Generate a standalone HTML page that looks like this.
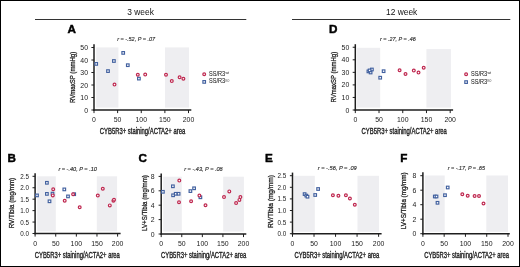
<!DOCTYPE html><html><head><meta charset="utf-8"><title>Figure</title><style>
html,body{margin:0;padding:0;background:#fff;}
body{width:520px;height:267px;overflow:hidden;}
svg{display:block;will-change:transform;font-family:"Liberation Sans",sans-serif;}
</style></head><body>
<svg width="520" height="267" viewBox="0 0 520 267">
<rect x="0" y="0" width="520" height="267" fill="#fff"/>
<text x="140.6" y="14.5" font-size="8.4" text-anchor="middle" fill="#111">3 week</text>
<text x="401.7" y="14.5" font-size="8.4" text-anchor="middle" fill="#111">12 week</text>
<line x1="35" y1="19.5" x2="246.3" y2="19.5" stroke="#333" stroke-width="1"/>
<line x1="292" y1="19.5" x2="510.3" y2="19.5" stroke="#333" stroke-width="1"/>
<text x="67.4" y="33.2" font-size="11.7" font-weight="bold" fill="#000" stroke="#000" stroke-width="0.45">A</text>
<rect x="96.2" y="47.4" width="22.2" height="60.2" fill="#eeeef1"/>
<rect x="165" y="47.4" width="24" height="60.2" fill="#eeeef1"/>
<line x1="94" y1="44.2" x2="94" y2="110.75" stroke="#1e1e1e" stroke-width="1.5"/>
<line x1="93.25" y1="110" x2="191.3" y2="110" stroke="#1e1e1e" stroke-width="1.5"/>
<line x1="91.4" y1="110" x2="94" y2="110" stroke="#1e1e1e" stroke-width="1"/>
<text x="88" y="112.5" font-size="6.3" text-anchor="end" textLength="3.85" lengthAdjust="spacingAndGlyphs" fill="#222">0</text>
<line x1="91.4" y1="97.5" x2="94" y2="97.5" stroke="#1e1e1e" stroke-width="1"/>
<text x="88" y="100" font-size="6.3" text-anchor="end" textLength="7.71" lengthAdjust="spacingAndGlyphs" fill="#222">10</text>
<line x1="91.4" y1="85" x2="94" y2="85" stroke="#1e1e1e" stroke-width="1"/>
<text x="88" y="87.5" font-size="6.3" text-anchor="end" textLength="7.71" lengthAdjust="spacingAndGlyphs" fill="#222">20</text>
<line x1="91.4" y1="72.5" x2="94" y2="72.5" stroke="#1e1e1e" stroke-width="1"/>
<text x="88" y="75" font-size="6.3" text-anchor="end" textLength="7.71" lengthAdjust="spacingAndGlyphs" fill="#222">30</text>
<line x1="91.4" y1="60" x2="94" y2="60" stroke="#1e1e1e" stroke-width="1"/>
<text x="88" y="62.5" font-size="6.3" text-anchor="end" textLength="7.71" lengthAdjust="spacingAndGlyphs" fill="#222">40</text>
<line x1="91.4" y1="47.5" x2="94" y2="47.5" stroke="#1e1e1e" stroke-width="1"/>
<text x="88" y="50" font-size="6.3" text-anchor="end" textLength="7.71" lengthAdjust="spacingAndGlyphs" fill="#222">50</text>
<line x1="94" y1="110" x2="94" y2="113.1" stroke="#1e1e1e" stroke-width="1"/>
<text x="94" y="122" font-size="6.3" text-anchor="middle" textLength="3.85" lengthAdjust="spacingAndGlyphs" fill="#222">0</text>
<line x1="117.62" y1="110" x2="117.62" y2="113.1" stroke="#1e1e1e" stroke-width="1"/>
<text x="117.62" y="122" font-size="6.3" text-anchor="middle" textLength="7.71" lengthAdjust="spacingAndGlyphs" fill="#222">50</text>
<line x1="141.25" y1="110" x2="141.25" y2="113.1" stroke="#1e1e1e" stroke-width="1"/>
<text x="141.25" y="122" font-size="6.3" text-anchor="middle" textLength="11.56" lengthAdjust="spacingAndGlyphs" fill="#222">100</text>
<line x1="164.88" y1="110" x2="164.88" y2="113.1" stroke="#1e1e1e" stroke-width="1"/>
<text x="164.88" y="122" font-size="6.3" text-anchor="middle" textLength="11.56" lengthAdjust="spacingAndGlyphs" fill="#222">150</text>
<line x1="188.5" y1="110" x2="188.5" y2="113.1" stroke="#1e1e1e" stroke-width="1"/>
<text x="188.5" y="122" font-size="6.3" text-anchor="middle" textLength="11.56" lengthAdjust="spacingAndGlyphs" fill="#222">200</text>
<text transform="translate(74.8 77.4) rotate(-90)" x="0" y="0" font-size="7.2" stroke="#222" stroke-width="0.28" text-anchor="middle" textLength="51.2" lengthAdjust="spacingAndGlyphs" fill="#222">RVmaxSP (mmHg)</text>
<text x="99.8" y="133.6" font-size="8.2" stroke="#222" stroke-width="0.36" textLength="85.4" lengthAdjust="spacingAndGlyphs" fill="#222">CYB5R3+ staining/ACTA2+ area</text>
<text x="117.2" y="40.5" font-size="5.4" font-style="italic" stroke="#333" stroke-width="0.15" textLength="37.8" lengthAdjust="spacingAndGlyphs" fill="#333">r = -.52, P = .07</text>
<rect x="94.9" y="62.6" width="2.6" height="2.6" fill="#fff" stroke="#41609f" stroke-width="1.15"/>
<rect x="106.7" y="69.8" width="2.6" height="2.6" fill="#fff" stroke="#41609f" stroke-width="1.15"/>
<rect x="112.6" y="59.7" width="2.6" height="2.6" fill="#fff" stroke="#41609f" stroke-width="1.15"/>
<rect x="121.9" y="51.6" width="2.6" height="2.6" fill="#fff" stroke="#41609f" stroke-width="1.15"/>
<rect x="126.5" y="63.9" width="2.6" height="2.6" fill="#fff" stroke="#41609f" stroke-width="1.15"/>
<rect x="137.6" y="77.3" width="2.6" height="2.6" fill="#fff" stroke="#41609f" stroke-width="1.15"/>
<circle cx="114.5" cy="84.6" r="1.4" fill="#fff" stroke="#bf2850" stroke-width="1.2"/>
<circle cx="137.8" cy="74.8" r="1.4" fill="#fff" stroke="#bf2850" stroke-width="1.2"/>
<circle cx="145.2" cy="74.6" r="1.4" fill="#fff" stroke="#bf2850" stroke-width="1.2"/>
<circle cx="166" cy="74.8" r="1.4" fill="#fff" stroke="#bf2850" stroke-width="1.2"/>
<circle cx="171.8" cy="81.1" r="1.4" fill="#fff" stroke="#bf2850" stroke-width="1.2"/>
<circle cx="179.6" cy="77.2" r="1.4" fill="#fff" stroke="#bf2850" stroke-width="1.2"/>
<circle cx="183.4" cy="78.8" r="1.4" fill="#fff" stroke="#bf2850" stroke-width="1.2"/>
<circle cx="204.2" cy="74.3" r="1.4" fill="#fff" stroke="#bf2850" stroke-width="1.2"/>
<rect x="202.9" y="80.6" width="2.6" height="2.6" fill="#fff" stroke="#41609f" stroke-width="1.15"/>
<text x="209" y="75.8" font-size="6.3" textLength="16.1" lengthAdjust="spacingAndGlyphs" fill="#222" stroke="#222" stroke-width="0.05">SS/R3</text>
<text x="225.4" y="74" font-size="3.6" textLength="3.6" lengthAdjust="spacingAndGlyphs" fill="#222">wt</text>
<text x="209" y="83.4" font-size="6.3" textLength="16.1" lengthAdjust="spacingAndGlyphs" fill="#222" stroke="#222" stroke-width="0.05">SS/R3</text>
<text x="225.4" y="81.6" font-size="3.6" textLength="3.9" lengthAdjust="spacingAndGlyphs" fill="#222">KO</text>
<text x="329" y="33" font-size="11.7" font-weight="bold" fill="#000" stroke="#000" stroke-width="0.45">D</text>
<rect x="357.1" y="47.8" width="23.1" height="59.8" fill="#eeeef1"/>
<rect x="426.4" y="49.1" width="24.5" height="58.5" fill="#eeeef1"/>
<line x1="355.3" y1="44.2" x2="355.3" y2="110.75" stroke="#1e1e1e" stroke-width="1.5"/>
<line x1="354.55" y1="110" x2="453.1" y2="110" stroke="#1e1e1e" stroke-width="1.5"/>
<line x1="352.7" y1="110" x2="355.3" y2="110" stroke="#1e1e1e" stroke-width="1"/>
<text x="349.3" y="112.5" font-size="6.3" text-anchor="end" textLength="3.85" lengthAdjust="spacingAndGlyphs" fill="#222">0</text>
<line x1="352.7" y1="97.45" x2="355.3" y2="97.45" stroke="#1e1e1e" stroke-width="1"/>
<text x="349.3" y="99.95" font-size="6.3" text-anchor="end" textLength="7.71" lengthAdjust="spacingAndGlyphs" fill="#222">10</text>
<line x1="352.7" y1="84.9" x2="355.3" y2="84.9" stroke="#1e1e1e" stroke-width="1"/>
<text x="349.3" y="87.4" font-size="6.3" text-anchor="end" textLength="7.71" lengthAdjust="spacingAndGlyphs" fill="#222">20</text>
<line x1="352.7" y1="72.35" x2="355.3" y2="72.35" stroke="#1e1e1e" stroke-width="1"/>
<text x="349.3" y="74.85" font-size="6.3" text-anchor="end" textLength="7.71" lengthAdjust="spacingAndGlyphs" fill="#222">30</text>
<line x1="352.7" y1="59.8" x2="355.3" y2="59.8" stroke="#1e1e1e" stroke-width="1"/>
<text x="349.3" y="62.3" font-size="6.3" text-anchor="end" textLength="7.71" lengthAdjust="spacingAndGlyphs" fill="#222">40</text>
<line x1="352.7" y1="47.25" x2="355.3" y2="47.25" stroke="#1e1e1e" stroke-width="1"/>
<text x="349.3" y="49.75" font-size="6.3" text-anchor="end" textLength="7.71" lengthAdjust="spacingAndGlyphs" fill="#222">50</text>
<line x1="355.3" y1="110" x2="355.3" y2="113.1" stroke="#1e1e1e" stroke-width="1"/>
<text x="355.3" y="122" font-size="6.3" text-anchor="middle" textLength="3.85" lengthAdjust="spacingAndGlyphs" fill="#222">0</text>
<line x1="379.03" y1="110" x2="379.03" y2="113.1" stroke="#1e1e1e" stroke-width="1"/>
<text x="379.03" y="122" font-size="6.3" text-anchor="middle" textLength="7.71" lengthAdjust="spacingAndGlyphs" fill="#222">50</text>
<line x1="402.75" y1="110" x2="402.75" y2="113.1" stroke="#1e1e1e" stroke-width="1"/>
<text x="402.75" y="122" font-size="6.3" text-anchor="middle" textLength="11.56" lengthAdjust="spacingAndGlyphs" fill="#222">100</text>
<line x1="426.48" y1="110" x2="426.48" y2="113.1" stroke="#1e1e1e" stroke-width="1"/>
<text x="426.48" y="122" font-size="6.3" text-anchor="middle" textLength="11.56" lengthAdjust="spacingAndGlyphs" fill="#222">150</text>
<line x1="450.2" y1="110" x2="450.2" y2="113.1" stroke="#1e1e1e" stroke-width="1"/>
<text x="450.2" y="122" font-size="6.3" text-anchor="middle" textLength="11.56" lengthAdjust="spacingAndGlyphs" fill="#222">200</text>
<text transform="translate(336.2 77.15) rotate(-90)" x="0" y="0" font-size="7.2" stroke="#222" stroke-width="0.28" text-anchor="middle" textLength="50.7" lengthAdjust="spacingAndGlyphs" fill="#222">RVmaxSP (mmHg)</text>
<text x="361.6" y="134.1" font-size="8.2" stroke="#222" stroke-width="0.36" textLength="85.3" lengthAdjust="spacingAndGlyphs" fill="#222">CYB5R3+ staining/ACTA2+ area</text>
<text x="380" y="40.6" font-size="5.4" font-style="italic" stroke="#333" stroke-width="0.15" textLength="35.8" lengthAdjust="spacingAndGlyphs" fill="#333">r = .27, P = .46</text>
<rect x="367.1" y="70.1" width="2.6" height="2.6" fill="#fff" stroke="#41609f" stroke-width="1.15"/>
<rect x="369.3" y="71.2" width="2.6" height="2.6" fill="#fff" stroke="#41609f" stroke-width="1.15"/>
<rect x="370.6" y="68.2" width="2.6" height="2.6" fill="#fff" stroke="#41609f" stroke-width="1.15"/>
<rect x="368.3" y="69.1" width="2.6" height="2.6" fill="#fff" stroke="#41609f" stroke-width="1.15"/>
<rect x="382.3" y="69.9" width="2.6" height="2.6" fill="#fff" stroke="#41609f" stroke-width="1.15"/>
<rect x="378.9" y="76.4" width="2.6" height="2.6" fill="#fff" stroke="#41609f" stroke-width="1.15"/>
<circle cx="399.6" cy="70.2" r="1.4" fill="#fff" stroke="#bf2850" stroke-width="1.2"/>
<circle cx="405.5" cy="74" r="1.4" fill="#fff" stroke="#bf2850" stroke-width="1.2"/>
<circle cx="413.8" cy="70.6" r="1.4" fill="#fff" stroke="#bf2850" stroke-width="1.2"/>
<circle cx="418.5" cy="72.6" r="1.4" fill="#fff" stroke="#bf2850" stroke-width="1.2"/>
<circle cx="423.7" cy="67.8" r="1.4" fill="#fff" stroke="#bf2850" stroke-width="1.2"/>
<circle cx="466.1" cy="74.2" r="1.4" fill="#fff" stroke="#bf2850" stroke-width="1.2"/>
<rect x="464.8" y="80.8" width="2.6" height="2.6" fill="#fff" stroke="#41609f" stroke-width="1.15"/>
<text x="471" y="75.7" font-size="6.3" textLength="16.1" lengthAdjust="spacingAndGlyphs" fill="#222" stroke="#222" stroke-width="0.05">SS/R3</text>
<text x="487.4" y="73.9" font-size="3.6" textLength="3.6" lengthAdjust="spacingAndGlyphs" fill="#222">wt</text>
<text x="471" y="83.6" font-size="6.3" textLength="16.1" lengthAdjust="spacingAndGlyphs" fill="#222" stroke="#222" stroke-width="0.05">SS/R3</text>
<text x="487.4" y="81.8" font-size="3.6" textLength="3.9" lengthAdjust="spacingAndGlyphs" fill="#222">KO</text>
<text x="7.6" y="161.9" font-size="11.7" font-weight="bold" fill="#000" stroke="#000" stroke-width="0.45">B</text>
<rect x="37.2" y="176.3" width="18.6" height="55.1" fill="#eeeef1"/>
<rect x="96.8" y="176.3" width="20.3" height="55.1" fill="#eeeef1"/>
<line x1="35.1" y1="173.2" x2="35.1" y2="234.25" stroke="#1e1e1e" stroke-width="1.5"/>
<line x1="34.35" y1="233.5" x2="120.6" y2="233.5" stroke="#1e1e1e" stroke-width="1.5"/>
<line x1="32.5" y1="233.5" x2="35.1" y2="233.5" stroke="#1e1e1e" stroke-width="1"/>
<text x="29" y="236" font-size="6.3" text-anchor="end" textLength="8.76" lengthAdjust="spacingAndGlyphs" fill="#222">0.0</text>
<line x1="32.5" y1="222.06" x2="35.1" y2="222.06" stroke="#1e1e1e" stroke-width="1"/>
<text x="29" y="224.56" font-size="6.3" text-anchor="end" textLength="8.76" lengthAdjust="spacingAndGlyphs" fill="#222">0.5</text>
<line x1="32.5" y1="210.62" x2="35.1" y2="210.62" stroke="#1e1e1e" stroke-width="1"/>
<text x="29" y="213.12" font-size="6.3" text-anchor="end" textLength="8.76" lengthAdjust="spacingAndGlyphs" fill="#222">1.0</text>
<line x1="32.5" y1="199.18" x2="35.1" y2="199.18" stroke="#1e1e1e" stroke-width="1"/>
<text x="29" y="201.68" font-size="6.3" text-anchor="end" textLength="8.76" lengthAdjust="spacingAndGlyphs" fill="#222">1.5</text>
<line x1="32.5" y1="187.74" x2="35.1" y2="187.74" stroke="#1e1e1e" stroke-width="1"/>
<text x="29" y="190.24" font-size="6.3" text-anchor="end" textLength="8.76" lengthAdjust="spacingAndGlyphs" fill="#222">2.0</text>
<line x1="32.5" y1="176.3" x2="35.1" y2="176.3" stroke="#1e1e1e" stroke-width="1"/>
<text x="29" y="178.8" font-size="6.3" text-anchor="end" textLength="8.76" lengthAdjust="spacingAndGlyphs" fill="#222">2.5</text>
<line x1="35.1" y1="233.5" x2="35.1" y2="236.6" stroke="#1e1e1e" stroke-width="1"/>
<text x="35.1" y="246" font-size="6.3" text-anchor="middle" textLength="3.85" lengthAdjust="spacingAndGlyphs" fill="#222">0</text>
<line x1="55.73" y1="233.5" x2="55.73" y2="236.6" stroke="#1e1e1e" stroke-width="1"/>
<text x="55.73" y="246" font-size="6.3" text-anchor="middle" textLength="7.71" lengthAdjust="spacingAndGlyphs" fill="#222">50</text>
<line x1="76.35" y1="233.5" x2="76.35" y2="236.6" stroke="#1e1e1e" stroke-width="1"/>
<text x="76.35" y="246" font-size="6.3" text-anchor="middle" textLength="11.56" lengthAdjust="spacingAndGlyphs" fill="#222">100</text>
<line x1="96.97" y1="233.5" x2="96.97" y2="236.6" stroke="#1e1e1e" stroke-width="1"/>
<text x="96.97" y="246" font-size="6.3" text-anchor="middle" textLength="11.56" lengthAdjust="spacingAndGlyphs" fill="#222">150</text>
<line x1="117.6" y1="233.5" x2="117.6" y2="236.6" stroke="#1e1e1e" stroke-width="1"/>
<text x="117.6" y="246" font-size="6.3" text-anchor="middle" textLength="11.56" lengthAdjust="spacingAndGlyphs" fill="#222">200</text>
<text transform="translate(13.9 203.05) rotate(-90)" x="0" y="0" font-size="7.2" stroke="#222" stroke-width="0.28" text-anchor="middle" textLength="50.5" lengthAdjust="spacingAndGlyphs" fill="#222">RV/Tibia (mg/mm)</text>
<text x="34.8" y="257.9" font-size="8.2" stroke="#222" stroke-width="0.36" textLength="85.1" lengthAdjust="spacingAndGlyphs" fill="#222">CYB5R3+ staining/ACTA2+ area</text>
<text x="58.4" y="170.6" font-size="5.4" font-style="italic" stroke="#333" stroke-width="0.15" textLength="38.5" lengthAdjust="spacingAndGlyphs" fill="#333">r = -.40, P = .10</text>
<rect x="35.7" y="194.1" width="2.6" height="2.6" fill="#fff" stroke="#41609f" stroke-width="1.15"/>
<rect x="45.6" y="181.5" width="2.6" height="2.6" fill="#fff" stroke="#41609f" stroke-width="1.15"/>
<rect x="45.6" y="192.6" width="2.6" height="2.6" fill="#fff" stroke="#41609f" stroke-width="1.15"/>
<rect x="48.2" y="200" width="2.6" height="2.6" fill="#fff" stroke="#41609f" stroke-width="1.15"/>
<rect x="51.2" y="192.3" width="2.6" height="2.6" fill="#fff" stroke="#41609f" stroke-width="1.15"/>
<rect x="63" y="188.1" width="2.6" height="2.6" fill="#fff" stroke="#41609f" stroke-width="1.15"/>
<rect x="66.7" y="195.1" width="2.6" height="2.6" fill="#fff" stroke="#41609f" stroke-width="1.15"/>
<rect x="72.9" y="192.9" width="2.6" height="2.6" fill="#fff" stroke="#41609f" stroke-width="1.15"/>
<circle cx="53.2" cy="189.2" r="1.4" fill="#fff" stroke="#bf2850" stroke-width="1.2"/>
<circle cx="52.8" cy="195.4" r="1.4" fill="#fff" stroke="#bf2850" stroke-width="1.2"/>
<circle cx="64.7" cy="200.7" r="1.4" fill="#fff" stroke="#bf2850" stroke-width="1.2"/>
<circle cx="73.1" cy="194.2" r="1.4" fill="#fff" stroke="#bf2850" stroke-width="1.2"/>
<circle cx="79.7" cy="207.2" r="1.4" fill="#fff" stroke="#bf2850" stroke-width="1.2"/>
<circle cx="97.8" cy="195.6" r="1.4" fill="#fff" stroke="#bf2850" stroke-width="1.2"/>
<circle cx="102.8" cy="188.8" r="1.4" fill="#fff" stroke="#bf2850" stroke-width="1.2"/>
<circle cx="109.8" cy="205.4" r="1.4" fill="#fff" stroke="#bf2850" stroke-width="1.2"/>
<circle cx="113.4" cy="200.7" r="1.4" fill="#fff" stroke="#bf2850" stroke-width="1.2"/>
<circle cx="114" cy="199.8" r="1.4" fill="#fff" stroke="#bf2850" stroke-width="1.2"/>
<text x="138.6" y="161.9" font-size="11.7" font-weight="bold" fill="#000" stroke="#000" stroke-width="0.45">C</text>
<rect x="163.2" y="176.7" width="18.6" height="54.9" fill="#eeeef1"/>
<rect x="223.2" y="176.7" width="20.7" height="54.9" fill="#eeeef1"/>
<line x1="161.2" y1="173.6" x2="161.2" y2="234.75" stroke="#1e1e1e" stroke-width="1.5"/>
<line x1="160.45" y1="234" x2="246.3" y2="234" stroke="#1e1e1e" stroke-width="1.5"/>
<line x1="158.6" y1="234" x2="161.2" y2="234" stroke="#1e1e1e" stroke-width="1"/>
<text x="154.7" y="236.5" font-size="6.3" text-anchor="end" textLength="3.85" lengthAdjust="spacingAndGlyphs" fill="#222">0</text>
<line x1="158.6" y1="219.6" x2="161.2" y2="219.6" stroke="#1e1e1e" stroke-width="1"/>
<text x="154.7" y="222.1" font-size="6.3" text-anchor="end" textLength="3.85" lengthAdjust="spacingAndGlyphs" fill="#222">2</text>
<line x1="158.6" y1="205.2" x2="161.2" y2="205.2" stroke="#1e1e1e" stroke-width="1"/>
<text x="154.7" y="207.7" font-size="6.3" text-anchor="end" textLength="3.85" lengthAdjust="spacingAndGlyphs" fill="#222">4</text>
<line x1="158.6" y1="190.8" x2="161.2" y2="190.8" stroke="#1e1e1e" stroke-width="1"/>
<text x="154.7" y="193.3" font-size="6.3" text-anchor="end" textLength="3.85" lengthAdjust="spacingAndGlyphs" fill="#222">6</text>
<line x1="158.6" y1="176.4" x2="161.2" y2="176.4" stroke="#1e1e1e" stroke-width="1"/>
<text x="154.7" y="178.9" font-size="6.3" text-anchor="end" textLength="3.85" lengthAdjust="spacingAndGlyphs" fill="#222">8</text>
<line x1="161.2" y1="234" x2="161.2" y2="237.1" stroke="#1e1e1e" stroke-width="1"/>
<text x="161.2" y="246" font-size="6.3" text-anchor="middle" textLength="3.85" lengthAdjust="spacingAndGlyphs" fill="#222">0</text>
<line x1="181.77" y1="234" x2="181.77" y2="237.1" stroke="#1e1e1e" stroke-width="1"/>
<text x="181.77" y="246" font-size="6.3" text-anchor="middle" textLength="7.71" lengthAdjust="spacingAndGlyphs" fill="#222">50</text>
<line x1="202.35" y1="234" x2="202.35" y2="237.1" stroke="#1e1e1e" stroke-width="1"/>
<text x="202.35" y="246" font-size="6.3" text-anchor="middle" textLength="11.56" lengthAdjust="spacingAndGlyphs" fill="#222">100</text>
<line x1="222.92" y1="234" x2="222.92" y2="237.1" stroke="#1e1e1e" stroke-width="1"/>
<text x="222.92" y="246" font-size="6.3" text-anchor="middle" textLength="11.56" lengthAdjust="spacingAndGlyphs" fill="#222">150</text>
<line x1="243.5" y1="234" x2="243.5" y2="237.1" stroke="#1e1e1e" stroke-width="1"/>
<text x="243.5" y="246" font-size="6.3" text-anchor="middle" textLength="11.56" lengthAdjust="spacingAndGlyphs" fill="#222">200</text>
<text transform="translate(147 203.1) rotate(-90)" x="0" y="0" font-size="7.2" stroke="#222" stroke-width="0.28" text-anchor="middle" textLength="55.8" lengthAdjust="spacingAndGlyphs" fill="#222">LV+S/Tibia (mg/mm)</text>
<text x="161" y="257.9" font-size="8.2" stroke="#222" stroke-width="0.36" textLength="85.3" lengthAdjust="spacingAndGlyphs" fill="#222">CYB5R3+ staining/ACTA2+ area</text>
<text x="184.2" y="170.6" font-size="5.4" font-style="italic" stroke="#333" stroke-width="0.15" textLength="38.5" lengthAdjust="spacingAndGlyphs" fill="#333">r = -.43, P = .08</text>
<rect x="161.6" y="190.5" width="2.6" height="2.6" fill="#fff" stroke="#41609f" stroke-width="1.15"/>
<rect x="171.6" y="185" width="2.6" height="2.6" fill="#fff" stroke="#41609f" stroke-width="1.15"/>
<rect x="171.8" y="194" width="2.6" height="2.6" fill="#fff" stroke="#41609f" stroke-width="1.15"/>
<rect x="174.4" y="192.5" width="2.6" height="2.6" fill="#fff" stroke="#41609f" stroke-width="1.15"/>
<rect x="177.3" y="192.5" width="2.6" height="2.6" fill="#fff" stroke="#41609f" stroke-width="1.15"/>
<rect x="189.1" y="189.8" width="2.6" height="2.6" fill="#fff" stroke="#41609f" stroke-width="1.15"/>
<rect x="192.8" y="187" width="2.6" height="2.6" fill="#fff" stroke="#41609f" stroke-width="1.15"/>
<rect x="199.1" y="196" width="2.6" height="2.6" fill="#fff" stroke="#41609f" stroke-width="1.15"/>
<circle cx="179.3" cy="180.6" r="1.4" fill="#fff" stroke="#bf2850" stroke-width="1.2"/>
<circle cx="179" cy="202.2" r="1.4" fill="#fff" stroke="#bf2850" stroke-width="1.2"/>
<circle cx="191.1" cy="201.2" r="1.4" fill="#fff" stroke="#bf2850" stroke-width="1.2"/>
<circle cx="199.4" cy="195.6" r="1.4" fill="#fff" stroke="#bf2850" stroke-width="1.2"/>
<circle cx="205.5" cy="205.3" r="1.4" fill="#fff" stroke="#bf2850" stroke-width="1.2"/>
<circle cx="224" cy="197.1" r="1.4" fill="#fff" stroke="#bf2850" stroke-width="1.2"/>
<circle cx="229.3" cy="191.4" r="1.4" fill="#fff" stroke="#bf2850" stroke-width="1.2"/>
<circle cx="236.1" cy="203.1" r="1.4" fill="#fff" stroke="#bf2850" stroke-width="1.2"/>
<circle cx="239.4" cy="199.9" r="1.4" fill="#fff" stroke="#bf2850" stroke-width="1.2"/>
<circle cx="240.4" cy="197.1" r="1.4" fill="#fff" stroke="#bf2850" stroke-width="1.2"/>
<text x="265" y="161.9" font-size="11.7" font-weight="bold" fill="#000" stroke="#000" stroke-width="0.45">E</text>
<rect x="294" y="175.8" width="20.8" height="56" fill="#eeeef1"/>
<rect x="357.5" y="175.8" width="21.5" height="56" fill="#eeeef1"/>
<line x1="292.5" y1="172.6" x2="292.5" y2="234.45" stroke="#1e1e1e" stroke-width="1.5"/>
<line x1="291.75" y1="233.7" x2="381.6" y2="233.7" stroke="#1e1e1e" stroke-width="1.5"/>
<line x1="289.9" y1="233.7" x2="292.5" y2="233.7" stroke="#1e1e1e" stroke-width="1"/>
<text x="286.3" y="236.2" font-size="6.3" text-anchor="end" textLength="8.76" lengthAdjust="spacingAndGlyphs" fill="#222">0.0</text>
<line x1="289.9" y1="222.1" x2="292.5" y2="222.1" stroke="#1e1e1e" stroke-width="1"/>
<text x="286.3" y="224.6" font-size="6.3" text-anchor="end" textLength="8.76" lengthAdjust="spacingAndGlyphs" fill="#222">0.5</text>
<line x1="289.9" y1="210.5" x2="292.5" y2="210.5" stroke="#1e1e1e" stroke-width="1"/>
<text x="286.3" y="213" font-size="6.3" text-anchor="end" textLength="8.76" lengthAdjust="spacingAndGlyphs" fill="#222">1.0</text>
<line x1="289.9" y1="198.9" x2="292.5" y2="198.9" stroke="#1e1e1e" stroke-width="1"/>
<text x="286.3" y="201.4" font-size="6.3" text-anchor="end" textLength="8.76" lengthAdjust="spacingAndGlyphs" fill="#222">1.5</text>
<line x1="289.9" y1="187.3" x2="292.5" y2="187.3" stroke="#1e1e1e" stroke-width="1"/>
<text x="286.3" y="189.8" font-size="6.3" text-anchor="end" textLength="8.76" lengthAdjust="spacingAndGlyphs" fill="#222">2.0</text>
<line x1="289.9" y1="175.7" x2="292.5" y2="175.7" stroke="#1e1e1e" stroke-width="1"/>
<text x="286.3" y="178.2" font-size="6.3" text-anchor="end" textLength="8.76" lengthAdjust="spacingAndGlyphs" fill="#222">2.5</text>
<line x1="292.5" y1="233.7" x2="292.5" y2="236.8" stroke="#1e1e1e" stroke-width="1"/>
<text x="292.5" y="246" font-size="6.3" text-anchor="middle" textLength="3.85" lengthAdjust="spacingAndGlyphs" fill="#222">0</text>
<line x1="314.02" y1="233.7" x2="314.02" y2="236.8" stroke="#1e1e1e" stroke-width="1"/>
<text x="314.02" y="246" font-size="6.3" text-anchor="middle" textLength="7.71" lengthAdjust="spacingAndGlyphs" fill="#222">50</text>
<line x1="335.55" y1="233.7" x2="335.55" y2="236.8" stroke="#1e1e1e" stroke-width="1"/>
<text x="335.55" y="246" font-size="6.3" text-anchor="middle" textLength="11.56" lengthAdjust="spacingAndGlyphs" fill="#222">100</text>
<line x1="357.07" y1="233.7" x2="357.07" y2="236.8" stroke="#1e1e1e" stroke-width="1"/>
<text x="357.07" y="246" font-size="6.3" text-anchor="middle" textLength="11.56" lengthAdjust="spacingAndGlyphs" fill="#222">150</text>
<line x1="378.6" y1="233.7" x2="378.6" y2="236.8" stroke="#1e1e1e" stroke-width="1"/>
<text x="378.6" y="246" font-size="6.3" text-anchor="middle" textLength="11.56" lengthAdjust="spacingAndGlyphs" fill="#222">200</text>
<text transform="translate(273 201.5) rotate(-90)" x="0" y="0" font-size="6.6" stroke="#222" stroke-width="0.28" text-anchor="middle" textLength="52.8" lengthAdjust="spacingAndGlyphs" fill="#222">RV/Tibia (mg/mm)</text>
<text x="294.4" y="257.9" font-size="8.2" stroke="#222" stroke-width="0.36" textLength="85" lengthAdjust="spacingAndGlyphs" fill="#222">CYB5R3+ staining/ACTA2+ area</text>
<text x="317.8" y="169.8" font-size="5.4" font-style="italic" stroke="#333" stroke-width="0.15" textLength="38.9" lengthAdjust="spacingAndGlyphs" fill="#333">r = -.56, P = .09</text>
<rect x="303.3" y="192.8" width="2.6" height="2.6" fill="#fff" stroke="#41609f" stroke-width="1.15"/>
<rect x="305" y="194.3" width="2.6" height="2.6" fill="#fff" stroke="#41609f" stroke-width="1.15"/>
<rect x="306.2" y="195.4" width="2.6" height="2.6" fill="#fff" stroke="#41609f" stroke-width="1.15"/>
<rect x="313.9" y="193.7" width="2.6" height="2.6" fill="#fff" stroke="#41609f" stroke-width="1.15"/>
<rect x="316.8" y="187.7" width="2.6" height="2.6" fill="#fff" stroke="#41609f" stroke-width="1.15"/>
<circle cx="332.9" cy="195.2" r="1.4" fill="#fff" stroke="#bf2850" stroke-width="1.2"/>
<circle cx="338.4" cy="195.7" r="1.4" fill="#fff" stroke="#bf2850" stroke-width="1.2"/>
<circle cx="345.9" cy="195.3" r="1.4" fill="#fff" stroke="#bf2850" stroke-width="1.2"/>
<circle cx="349.9" cy="198.5" r="1.4" fill="#fff" stroke="#bf2850" stroke-width="1.2"/>
<circle cx="354.8" cy="204.8" r="1.4" fill="#fff" stroke="#bf2850" stroke-width="1.2"/>
<text x="400.3" y="161.9" font-size="11.7" font-weight="bold" fill="#000" stroke="#000" stroke-width="0.45">F</text>
<rect x="424.8" y="175.5" width="19.9" height="56.3" fill="#eeeef1"/>
<rect x="486.3" y="175.5" width="21.7" height="56.3" fill="#eeeef1"/>
<line x1="422.9" y1="172.2" x2="422.9" y2="234.45" stroke="#1e1e1e" stroke-width="1.5"/>
<line x1="422.15" y1="233.7" x2="509.8" y2="233.7" stroke="#1e1e1e" stroke-width="1.5"/>
<line x1="420.3" y1="233.7" x2="422.9" y2="233.7" stroke="#1e1e1e" stroke-width="1"/>
<text x="416.4" y="236.2" font-size="6.3" text-anchor="end" textLength="3.85" lengthAdjust="spacingAndGlyphs" fill="#222">0</text>
<line x1="420.3" y1="219.2" x2="422.9" y2="219.2" stroke="#1e1e1e" stroke-width="1"/>
<text x="416.4" y="221.7" font-size="6.3" text-anchor="end" textLength="3.85" lengthAdjust="spacingAndGlyphs" fill="#222">2</text>
<line x1="420.3" y1="204.7" x2="422.9" y2="204.7" stroke="#1e1e1e" stroke-width="1"/>
<text x="416.4" y="207.2" font-size="6.3" text-anchor="end" textLength="3.85" lengthAdjust="spacingAndGlyphs" fill="#222">4</text>
<line x1="420.3" y1="190.2" x2="422.9" y2="190.2" stroke="#1e1e1e" stroke-width="1"/>
<text x="416.4" y="192.7" font-size="6.3" text-anchor="end" textLength="3.85" lengthAdjust="spacingAndGlyphs" fill="#222">6</text>
<line x1="420.3" y1="175.7" x2="422.9" y2="175.7" stroke="#1e1e1e" stroke-width="1"/>
<text x="416.4" y="178.2" font-size="6.3" text-anchor="end" textLength="3.85" lengthAdjust="spacingAndGlyphs" fill="#222">8</text>
<line x1="422.9" y1="233.7" x2="422.9" y2="236.8" stroke="#1e1e1e" stroke-width="1"/>
<text x="422.9" y="246" font-size="6.3" text-anchor="middle" textLength="3.85" lengthAdjust="spacingAndGlyphs" fill="#222">0</text>
<line x1="444.17" y1="233.7" x2="444.17" y2="236.8" stroke="#1e1e1e" stroke-width="1"/>
<text x="444.17" y="246" font-size="6.3" text-anchor="middle" textLength="7.71" lengthAdjust="spacingAndGlyphs" fill="#222">50</text>
<line x1="465.45" y1="233.7" x2="465.45" y2="236.8" stroke="#1e1e1e" stroke-width="1"/>
<text x="465.45" y="246" font-size="6.3" text-anchor="middle" textLength="11.56" lengthAdjust="spacingAndGlyphs" fill="#222">100</text>
<line x1="486.72" y1="233.7" x2="486.72" y2="236.8" stroke="#1e1e1e" stroke-width="1"/>
<text x="486.72" y="246" font-size="6.3" text-anchor="middle" textLength="11.56" lengthAdjust="spacingAndGlyphs" fill="#222">150</text>
<line x1="508" y1="233.7" x2="508" y2="236.8" stroke="#1e1e1e" stroke-width="1"/>
<text x="508" y="246" font-size="6.3" text-anchor="middle" textLength="11.56" lengthAdjust="spacingAndGlyphs" fill="#222">200</text>
<text transform="translate(406.3 200.8) rotate(-90)" x="0" y="0" font-size="7.2" stroke="#222" stroke-width="0.28" text-anchor="middle" textLength="56.8" lengthAdjust="spacingAndGlyphs" fill="#222">LV+S/Tibia (mg/mm)</text>
<text x="424.2" y="257.9" font-size="8.2" stroke="#222" stroke-width="0.36" textLength="84.8" lengthAdjust="spacingAndGlyphs" fill="#222">CYB5R3+ staining/ACTA2+ area</text>
<text x="447.8" y="169.8" font-size="5.4" font-style="italic" stroke="#333" stroke-width="0.15" textLength="37.2" lengthAdjust="spacingAndGlyphs" fill="#333">r = -.17, P = .65</text>
<rect x="433.5" y="195.2" width="2.6" height="2.6" fill="#fff" stroke="#41609f" stroke-width="1.15"/>
<rect x="435.2" y="195.2" width="2.6" height="2.6" fill="#fff" stroke="#41609f" stroke-width="1.15"/>
<rect x="436.2" y="201.5" width="2.6" height="2.6" fill="#fff" stroke="#41609f" stroke-width="1.15"/>
<rect x="443.7" y="193.9" width="2.6" height="2.6" fill="#fff" stroke="#41609f" stroke-width="1.15"/>
<rect x="446.4" y="186.2" width="2.6" height="2.6" fill="#fff" stroke="#41609f" stroke-width="1.15"/>
<circle cx="462.3" cy="194.3" r="1.4" fill="#fff" stroke="#bf2850" stroke-width="1.2"/>
<circle cx="467.7" cy="195.8" r="1.4" fill="#fff" stroke="#bf2850" stroke-width="1.2"/>
<circle cx="474.6" cy="196" r="1.4" fill="#fff" stroke="#bf2850" stroke-width="1.2"/>
<circle cx="479" cy="196" r="1.4" fill="#fff" stroke="#bf2850" stroke-width="1.2"/>
<circle cx="483.5" cy="203.5" r="1.4" fill="#fff" stroke="#bf2850" stroke-width="1.2"/>
<rect x="0.5" y="0.5" width="519" height="266" fill="none" stroke="#000" stroke-width="1"/>
</svg></body></html>
